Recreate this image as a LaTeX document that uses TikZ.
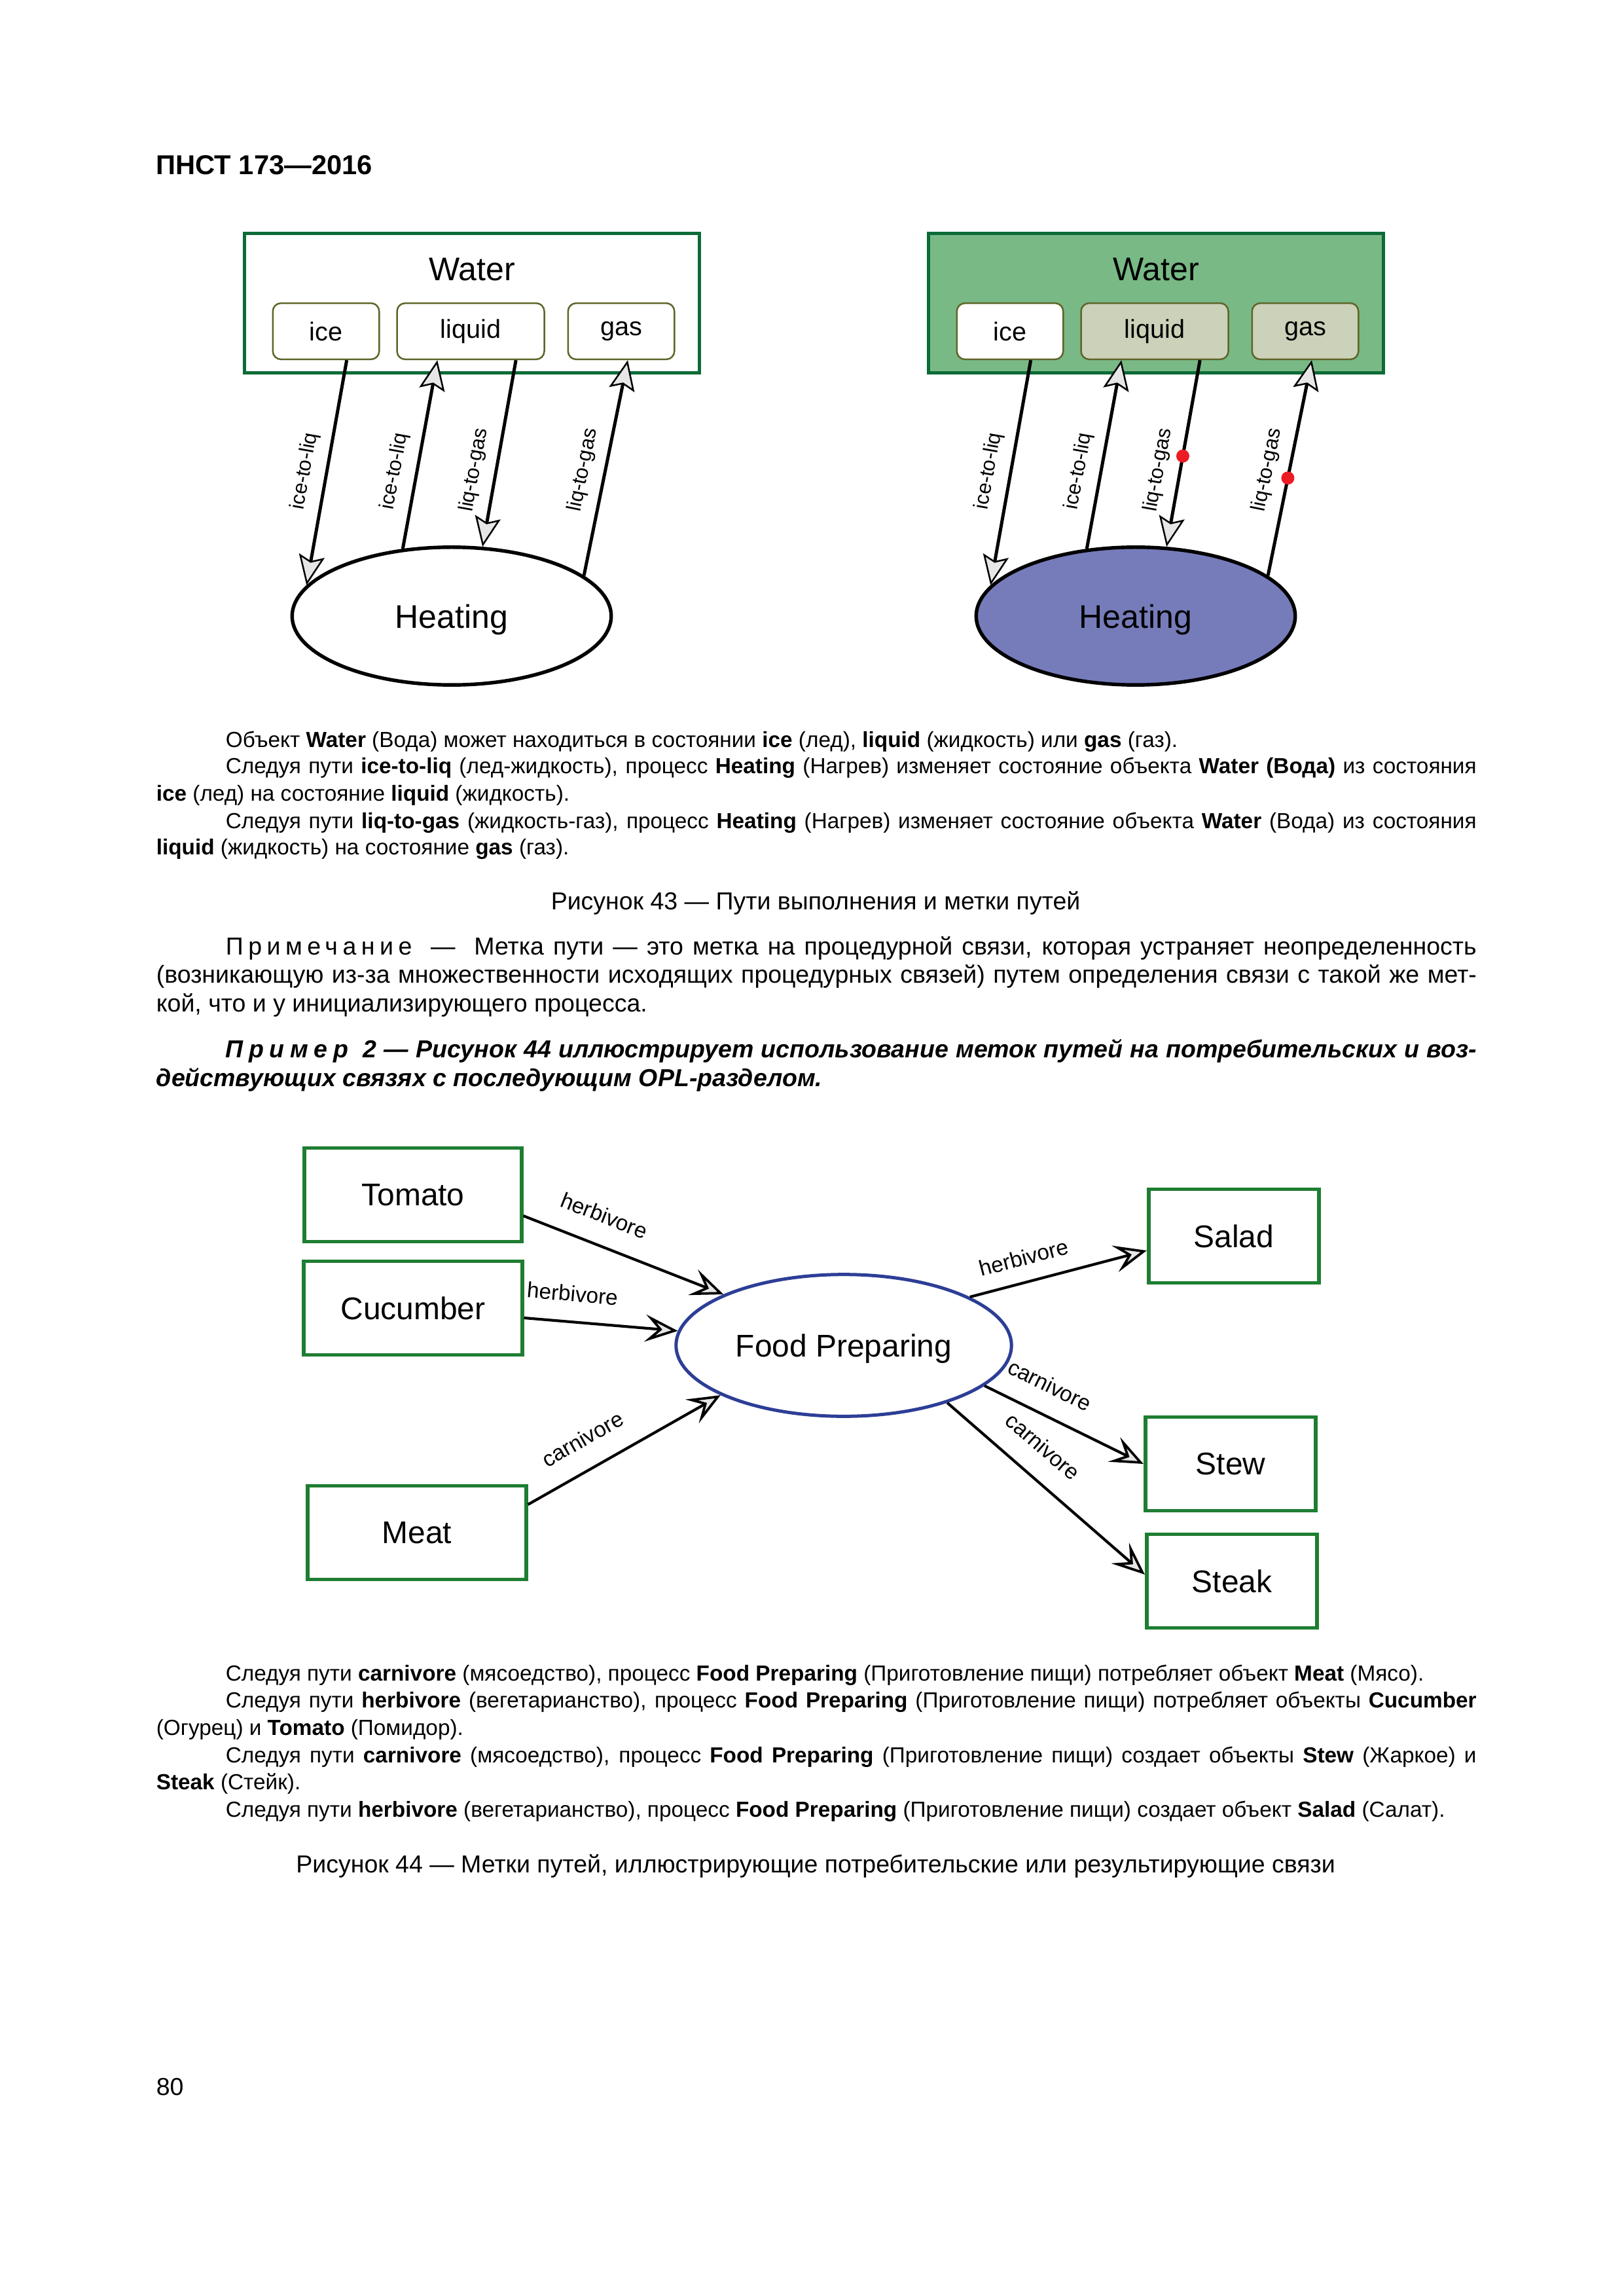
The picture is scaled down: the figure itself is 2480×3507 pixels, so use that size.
\documentclass[tikz,border=0pt]{standalone}
\usepackage{fontspec}
\setmainfont{Liberation Sans}
\usetikzlibrary{positioning,shapes.geometric,arrows.meta}

\definecolor{objgreen}{RGB}{12,107,56}
\definecolor{waterfill}{RGB}{120,185,134}
\definecolor{stateolive}{RGB}{95,100,40}
\definecolor{statefill}{RGB}{203,210,185}
\definecolor{heatfill}{RGB}{118,124,186}
\definecolor{tipgray}{RGB}{230,230,230}
\definecolor{tagred}{RGB}{235,28,36}
\definecolor{thinggreen}{RGB}{30,125,50}
\definecolor{foodblue}{RGB}{45,62,150}

\newcommand{\bodyfont}{\fontsize{8}{9.9}\selectfont}
\newcommand{\notefont}{\fontsize{9}{10}\selectfont}
\newcommand{\capfont}{\fontsize{9}{10}\selectfont}
\newcommand{\fillline}[1]{\hbox to 458.6pt{#1}}
\newcommand{\fullline}[1]{\hbox to 484.1pt{#1}}
\newcommand{\spacedword}[1]{{\addfontfeature{LetterSpace=20}#1}}
\newcommand{\spacedbold}[1]{{\addfontfeature{LetterSpace=23}#1}}

\tikzset{
  txt/.style={inner sep=0pt, anchor=base west, font=\bodyfont},
  objbox/.style={draw=objgreen, line width=1.2pt, minimum width=167pt, minimum height=51pt},
  statebox/.style={draw=stateolive, line width=0.6pt, rounded corners=3pt, minimum height=20.6pt, inner sep=0pt, font=\fontsize{9.5}{11}\selectfont},
  procell/.style={ellipse, draw, line width=1.3pt, inner sep=0pt, text depth=0pt, minimum width=117pt, minimum height=50.5pt, font=\fontsize{12}{14}\selectfont},
  statelink/.style={line width=1.2pt, -{Stealth[length=11pt, width=9.5pt, inset=2pt, line width=0.6pt, fill=tipgray]}},
  pathtag/.style={sloped, above=0.5pt, font=\fontsize{7.5}{9}\selectfont},
  thingbox/.style={draw=thinggreen, line width=1.4pt, minimum height=34.3pt, font=\fontsize{11.5}{13}\selectfont},
  foodlink/.style={line width=1pt, -{Stealth[length=12pt, width=10pt, inset=5pt, line width=0.9pt, fill=tipgray]}},
  foodtag/.style={sloped, font=\fontsize{8}{9}\selectfont},
}

\begin{document}
\begin{tikzpicture}[x=0.24pt, y=-0.24pt]
\path[fill=white, use as bounding box] (0,0) rectangle (2480,3507);

% header
\node[txt, font=\fontsize{10}{12}\selectfont\bfseries] (hdr) at (238,267) {ПНСТ 173—2016};

% figure 43, left
\node[objbox] (water) at (721,463) {};
\node[anchor=base, font=\fontsize{12}{14}\selectfont] (waterlbl) at (721,429) {Water};
\node[statebox, minimum width=39pt] (ice) at (498,506) {ice};
\node[statebox, minimum width=54pt] (liquid) at (719,506) {liquid};
\node[statebox, minimum width=39pt] (gas) at (949,506) {gas};
\node[procell] (heat) at (690,941) {Heating};

\draw[statelink] ([xshift=7.6pt]ice.south) -- node[pathtag, pos=0.51] {ice-to-liq} (heat.168);
\draw[statelink] (heat.126) -- node[pathtag, pos=0.39] {ice-to-liq} ([xshift=-12.2pt]liquid.south);
\draw[statelink] ([xshift=16.6pt]liquid.south) -- node[pathtag, pos=0.61] {liq-to-gas} (heat.66);
\draw[statelink] (heat.17) -- node[pathtag, pos=0.47] {liq-to-gas} ([xshift=2.4pt]gas.south);

% figure 43, right
\begin{scope}[shift={(1045,0)}]
\node[objbox, fill=waterfill] (water2) at (721,463) {};
\node[anchor=base, font=\fontsize{12}{14}\selectfont] (waterlbl2) at (721,429) {Water};
\node[statebox, fill=white, minimum width=39pt] (ice2) at (498,506) {ice};
\node[statebox, fill=statefill, minimum width=54pt] (liquid2) at (719,506) {liquid};
\node[statebox, fill=statefill, minimum width=39pt] (gas2) at (949,506) {gas};
\node[procell, fill=heatfill] (heat2) at (690,941) {Heating};

\draw[statelink] ([xshift=7.6pt]ice2.south) -- node[pathtag, pos=0.51] {ice-to-liq} (heat2.168);
\draw[statelink] (heat2.126) -- node[pathtag, pos=0.39] {ice-to-liq} ([xshift=-12.2pt]liquid2.south);
\draw[statelink] ([xshift=16.6pt]liquid2.south) -- node[pathtag, pos=0.61] {liq-to-gas} coordinate[pos=0.514] (tag1) (heat2.66);
\draw[statelink] (heat2.17) -- node[pathtag, pos=0.47] {liq-to-gas} coordinate[pos=0.453] (tag2) ([xshift=2.4pt]gas2.south);
\fill[tagred] (tag1) circle[radius=2.4pt];
\fill[tagred] (tag2) circle[radius=2.4pt];
\end{scope}

% text under figure 43
\node[txt] (a1) at (344,1141) {Объект \textbf{Water} (Вода) может находиться в состоянии \textbf{ice} (лед), \textbf{liquid} (жидкость) или \textbf{gas} (газ).};
\node[txt] (a2) at (344,1182) {\fillline{Следуя пути \textbf{ice-to-liq} (лед-жидкость), процесс \textbf{Heating} (Нагрев) изменяет состояние объекта \textbf{Water (Вода)} из состояния}};
\node[txt] (a3) at (238,1223) {\textbf{ice} (лед) на состояние \textbf{liquid} (жидкость).};
\node[txt] (a4) at (344,1265) {\fillline{Следуя пути \textbf{liq-to-gas} (жидкость-газ), процесс \textbf{Heating} (Нагрев) изменяет состояние объекта \textbf{Water} (Вода) из состояния}};
\node[txt] (a5) at (238,1305) {\textbf{liquid} (жидкость) на состояние \textbf{gas} (газ).};

\node[inner sep=0pt, anchor=base, font=\capfont] (cap43) at (1246,1389) {Рисунок 43 — Пути выполнения и метки путей};

% note and example
\node[txt, font=\notefont] (n1) at (344,1458) {\fillline{\spacedword{Примечание}\hspace{3.5pt} — \hspace{3.5pt}Метка пути — это метка на процедурной связи, которая устраняет неопределенность}};
\node[txt, font=\notefont] (n2) at (238,1501) {\fullline{(возникающую из-за множественности исходящих процедурных связей) путем определения связи с такой же мет-}};
\node[txt, font=\notefont] (n3) at (238,1545) {кой, что и у инициализирующего процесса.};
\node[txt, font=\notefont\bfseries\itshape] (e1) at (344,1615) {\fillline{\spacedbold{Пример}\ \ 2 — Рисунок 44 иллюстрирует использование меток путей на потребительских и воз-}};
\node[txt, font=\notefont\bfseries\itshape] (e2) at (238,1659) {действующих связях с последующим OPL-разделом.};

% figure 44
\node[thingbox, minimum width=79.5pt] (tomato) at (631,1825) {Tomato};
\node[thingbox, minimum width=80pt] (cucumber) at (631,1998) {Cucumber};
\node[thingbox, minimum width=80pt] (meat) at (637,2341) {Meat};
\node[thingbox, minimum width=62.5pt] (salad) at (1885,1888) {Salad};
\node[thingbox, minimum width=62.5pt] (stew) at (1880,2236) {Stew};
\node[thingbox, minimum width=62.5pt] (steak) at (1882,2415) {Steak};
\node[ellipse, draw=foodblue, line width=1.2pt, inner sep=0pt, text depth=0pt, minimum width=123pt, minimum height=52pt, font=\fontsize{11.5}{13}\selectfont] (food) at (1289,2055) {Food Preparing};

\draw[foodlink] ([yshift=-7.7pt]tomato.east) -- node[foodtag, pos=0.35, above=4.2pt] {herbivore} (food.157);
\draw[foodlink] ([yshift=-3.6pt]cucumber.east) -- node[foodtag, pos=0.3, above=3.6pt] {herbivore} (food.175);
\draw[foodlink] ([yshift=10.3pt]meat.east) -- node[foodtag, pos=0.36, above=4.3pt] {carnivore} (food.202);
\draw[foodlink] (food.21) -- node[foodtag, pos=0.34, above=2.2pt] {herbivore} ([yshift=-5.3pt]salad.west);
\draw[foodlink] (food.344) -- node[foodtag, pos=0.33, above=4pt] {carnivore} (stew.west);
\draw[foodlink] (food.331) -- node[foodtag, pos=0.385, above=4.2pt] {carnivore} ([yshift=2.4pt]steak.west);

% text under figure 44
\node[txt] (b1) at (344,2567) {Следуя пути \textbf{carnivore} (мясоедство), процесс \textbf{Food Preparing} (Приготовление пищи) потребляет объект \textbf{Meat} (Мясо).};
\node[txt] (b2) at (344,2608) {\fillline{Следуя пути \textbf{herbivore} (вегетарианство), процесс \textbf{Food Preparing} (Приготовление пищи) потребляет объекты \textbf{Cucumber}}};
\node[txt] (b3) at (238,2650) {(Огурец) и \textbf{Tomato} (Помидор).};
\node[txt] (b4) at (344,2692) {\fillline{Следуя пути \textbf{carnivore} (мясоедство), процесс \textbf{Food Preparing} (Приготовление пищи) создает объекты \textbf{Stew} (Жаркое) и}};
\node[txt] (b5) at (238,2733) {\textbf{Steak} (Стейк).};
\node[txt] (b6) at (344,2775) {Следуя пути \textbf{herbivore} (вегетарианство), процесс \textbf{Food Preparing} (Приготовление пищи) создает объект \textbf{Salad} (Салат).};

\node[inner sep=0pt, anchor=base, font=\capfont] (cap44) at (1246,2860) {Рисунок 44 — Метки путей, иллюстрирующие потребительские или результирующие связи};

% page number
\node[txt, font=\capfont] (pgnum) at (238,3200) {80};
\end{tikzpicture}
\end{document}
